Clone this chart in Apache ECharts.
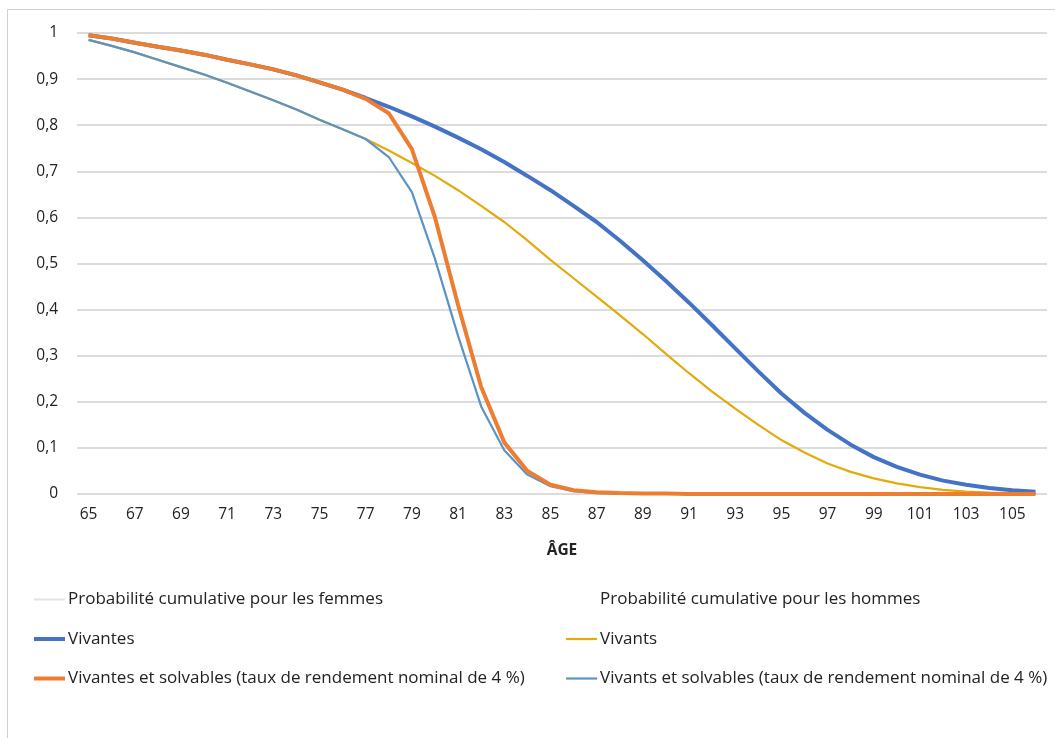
<!DOCTYPE html>
<html><head><meta charset="utf-8">
<script src="https://cdn.jsdelivr.net/npm/echarts@6/dist/echarts.min.js"></script>
<style>html,body{margin:0;padding:0;background:#fff}#c{width:1055px;height:738px}</style>
</head><body><div id="c"></div>
<script>
const ages = [];
for (let a = 65; a <= 106; a++) ages.push(String(a));

const femmesVivantes = [0.995,0.988,0.979,0.970,0.962,0.953,0.942,0.932,0.921,0.908,0.893,0.877,0.859,0.840,0.819,0.797,0.773,0.748,0.720,0.690,0.659,0.625,0.590,0.550,0.507,0.462,0.415,0.366,0.316,0.266,0.218,0.176,0.139,0.107,0.080,0.059,0.042,0.029,0.020,0.013,0.008,0.005];
const femmesSolvables = [0.995,0.988,0.979,0.970,0.962,0.953,0.942,0.932,0.921,0.908,0.893,0.877,0.857,0.826,0.748,0.600,0.410,0.232,0.112,0.050,0.020,0.008,0.004,0.002,0.001,0.001,0,0,0,0,0,0,0,0,0,0,0,0,0,0,0,0];
const hommesVivants = [0.985,0.972,0.958,0.942,0.926,0.910,0.892,0.873,0.854,0.834,0.812,0.791,0.770,0.745,0.718,0.690,0.659,0.625,0.590,0.550,0.508,0.468,0.428,0.388,0.347,0.304,0.262,0.222,0.185,0.150,0.117,0.090,0.066,0.048,0.034,0.023,0.015,0.009,0.005,0.003,0.002,0.001];
const hommesSolvables = [0.985,0.972,0.958,0.942,0.926,0.910,0.892,0.873,0.854,0.834,0.812,0.791,0.770,0.731,0.655,0.510,0.343,0.190,0.095,0.042,0.017,0.006,0.002,0.001,0,0,0,0,0,0,0,0,0,0,0,0,0,0,0,0,0,0];

const names = {
  hf: 'Probabilité cumulative pour les femmes',
  hh: 'Probabilité cumulative pour les hommes',
  fv: 'Vivantes',
  fs: 'Vivantes et solvables (taux de rendement nominal de 4 %)',
  hv: 'Vivants',
  hs: 'Vivants et solvables (taux de rendement nominal de 4 %)'
};
const FONT = '"Open Sans", sans-serif';

const chart = echarts.init(document.getElementById('c'), null, {renderer: 'canvas'});
const legendBase = {
  orient: 'vertical', itemWidth: 31, itemHeight: 14, itemGap: 22.5,
  textStyle: {fontFamily: FONT, fontSize: 17, color: '#222', lineHeight: 16, padding: [0,0,0,-2]},
  itemStyle: {opacity: 0},
  selectedMode: false
};
chart.setOption({
  animation: false,
  graphic: [{type: 'rect', shape: {x: 7.5, y: 9.5, width: 1060, height: 740}, style: {fill: 'none', stroke: '#d0d0d0', lineWidth: 1}, silent: true}],
  grid: {left: 77, right: 8, top: 33, bottom: 244, containLabel: false},
  xAxis: {
    type: 'category', data: ages, boundaryGap: true,
    name: 'ÂGE', nameLocation: 'middle', nameGap: 49,
    nameTextStyle: {fontFamily: FONT, fontSize: 15.5, fontWeight: 'bold', color: '#222'},
    axisLine: {show: false}, axisTick: {show: false},
    axisLabel: {interval: 1, fontFamily: FONT, fontSize: 15.5, color: '#222', margin: 13}
  },
  yAxis: {
    type: 'value', min: 0, max: 1, interval: 0.1,
    axisLine: {show: false}, axisTick: {show: false},
    splitLine: {lineStyle: {color: '#d0d0d0', width: 1.5}},
    axisLabel: {fontFamily: FONT, fontSize: 15.5, color: '#222', margin: 19,
      formatter: v => String(Math.round(v * 10) / 10).replace('.', ',')}
  },
  legend: [
    Object.assign({}, legendBase, {left: 27, top: 586, data: [
      names.hf,
      {name: names.fv, lineStyle: {width: 4}},
      {name: names.fs, lineStyle: {width: 4}}]}),
    Object.assign({}, legendBase, {left: 560, top: 586, data: [
      names.hh,
      {name: names.hv, lineStyle: {width: 2.2}},
      {name: names.hs, lineStyle: {width: 2.2}}]})
  ],
  series: [
    {name: names.hf, type: 'line', data: [], symbol: 'none', lineStyle: {width: 1, color: '#e3e3e3'}, itemStyle: {color: '#e3e3e3'}},
    {name: names.hh, type: 'line', data: [], symbol: 'none', lineStyle: {width: 1, color: '#ffffff'}, itemStyle: {color: '#ffffff'}},
    {name: names.hv, type: 'line', data: hommesVivants, symbol: 'none', z: 2, lineStyle: {width: 2.2, color: '#E2AA0B'}, itemStyle: {color: '#E2AA0B'}},
    {name: names.hs, type: 'line', data: hommesSolvables, symbol: 'none', z: 3, lineStyle: {width: 2.2, color: '#5B93C8'}, itemStyle: {color: '#5B93C8'}},
    {name: names.fv, type: 'line', data: femmesVivantes, symbol: 'none', z: 4, lineStyle: {width: 4, color: '#4472C4'}, itemStyle: {color: '#4472C4'}},
    {name: names.fs, type: 'line', data: femmesSolvables, symbol: 'none', z: 5, lineStyle: {width: 4, color: '#ED7D31'}, itemStyle: {color: '#ED7D31'}}
  ]
});
</script></body></html>
